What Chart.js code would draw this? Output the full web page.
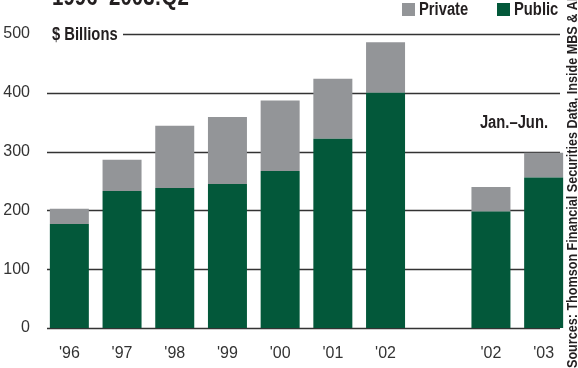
<!DOCTYPE html>
<html>
<head>
<meta charset="utf-8">
<script src="https://cdn.jsdelivr.net/npm/chart.js@4.4.1/dist/chart.umd.min.js"></script>
<style>
  html, body { margin: 0; padding: 0; background: #fff; }
  #wrap { width: 578px; height: 368px; position: relative; }
</style>
</head>
<body>
<div id="wrap"><canvas id="issuance"></canvas></div>
<script>
// issuance by year, $ billions; the blank slot separates the half-year pair
const years = ["'96", "'97", "'98", "'99", "'00", "'01", "'02", "", "'02", "'03"];
const publicVals = [177, 233, 238, 245, 267, 322, 400, null, 198, 256];
const privateVals = [26, 53, 106, 114, 120, 102, 86, null, 42, 42];
const yTicks = [0, 100, 200, 300, 400, 500];

const GREEN = '#03583a';
const GRAY = '#939598';
const INK = '#231f20';
const FONT = '"Liberation Sans", Arial, sans-serif';

// condensed-looking text: squeeze horizontally around the anchor
function narrowText(ctx, text, x, y, align, squeeze) {
    ctx.save();
    ctx.translate(x, y);
    ctx.scale(squeeze, 1);
    ctx.textAlign = align;
    ctx.fillText(text, 0, 0);
    ctx.restore();
}

// horizontal rules, captions, legend and source line
const decor = {
    id: 'decor',
    beforeDatasetsDraw(chart) {
        const ctx = chart.ctx;
        const y = chart.scales.y;
        ctx.save();
        ctx.strokeStyle = '#333';
        ctx.lineWidth = 1.6;
        yTicks.forEach(v => {
            const py = Math.round(y.getPixelForValue(v)) + 0.5;
            ctx.beginPath();
            ctx.moveTo(v === 500 ? 123 : 47, py);
            ctx.lineTo(560, py);
            ctx.stroke();
        });
        ctx.restore();
    },
    afterDraw(chart) {
        const ctx = chart.ctx;
        const y = chart.scales.y;
        ctx.save();
        ctx.fillStyle = INK;

        // title, mostly above the frame
        ctx.font = 'bold 25px ' + FONT;
        ctx.textBaseline = 'alphabetic';
        narrowText(ctx, '1996–2003:Q2', 52, 5, 'left', 0.82);

        ctx.font = 'bold 18px ' + FONT;
        ctx.textBaseline = 'middle';
        narrowText(ctx, '$ Billions', 52, y.getPixelForValue(500) + 1, 'left', 0.82);
        narrowText(ctx, 'Jan.–Jun.', 548, 123, 'right', 0.82);

        // legend: Private, then Public
        const items = [chart.data.datasets[1], chart.data.datasets[0]];
        let lx = 402;
        items.forEach(ds => {
            ctx.fillStyle = ds.backgroundColor;
            ctx.fillRect(lx, 3, 13, 13);
            ctx.fillStyle = INK;
            narrowText(ctx, ds.label, lx + 17, 10, 'left', 0.82);
            lx += 95;
        });

        // source note along the right edge
        ctx.translate(577, 368);
        ctx.rotate(-Math.PI / 2);
        ctx.font = 'bold 15px ' + FONT;
        ctx.textBaseline = 'alphabetic';
        narrowText(ctx, 'Sources: Thomson Financial Securities Data, Inside MBS & ABS', 0, 0, 'left', 0.84);
        ctx.restore();
    }
};

new Chart(document.getElementById('issuance'), {
    type: 'bar',
    data: {
        labels: years,
        datasets: [
            {
                label: 'Public',
                data: publicVals,
                backgroundColor: GREEN,
                barPercentage: 0.74,
                categoryPercentage: 1
            },
            {
                label: 'Private',
                data: privateVals,
                backgroundColor: GRAY,
                barPercentage: 0.74,
                categoryPercentage: 1
            }
        ]
    },
    options: {
        responsive: true,
        maintainAspectRatio: false,
        animation: false,
        layout: { padding: { top: 34, right: 8, bottom: 0, left: 0 } },
        plugins: {
            legend: { display: false },
            tooltip: { enabled: false }
        },
        scales: {
            x: {
                stacked: true,
                grid: { display: false },
                border: { display: false },
                afterFit: s => { s.height = 40; },
                ticks: {
                    padding: 8,
                    color: '#333',
                    font: { family: FONT, size: 16 },
                    maxRotation: 0,
                    autoSkip: false
                }
            },
            y: {
                stacked: true,
                min: 0,
                max: 500,
                afterFit: s => { s.width = 43; },
                afterBuildTicks: s => { s.ticks = yTicks.map(v => ({ value: v })); },
                grid: { display: false },
                border: { display: false },
                ticks: {
                    padding: 5,
                    color: '#333',
                    font: { family: FONT, size: 16 }
                }
            }
        }
    },
    plugins: [decor]
});
</script>
</body>
</html>
